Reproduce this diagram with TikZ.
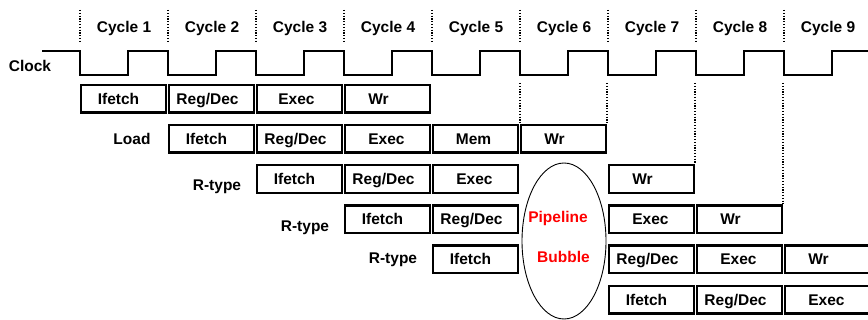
\documentclass[tikz,border=0pt]{standalone}
\usepackage{fontspec}
\setmainfont{Liberation Sans}
\usetikzlibrary{shapes.geometric}
\begin{document}
\begin{tikzpicture}[x=1pt,y=-1pt,
  font=\bfseries\fontsize{15.5}{18}\selectfont,
  stagebox/.style={draw, line width=2.4pt, minimum width=84.6pt, minimum height=27.6pt,
    inner sep=0pt, text height=11pt, text depth=0pt},
  dotline/.style={line width=2pt, dash pattern=on 1.3pt off 1.5pt},
  clk/.style={line width=2.2pt},
  lbl/.style={anchor=base, inner sep=0pt},
  redlbl/.style={lbl, text=red}]
\useasboundingbox (0,0) rectangle (868,320);
% cycle labels and top dotted lines
\foreach \k in {0,...,8}{
  \draw[dotline] ({80+88*\k},10) -- ({80+88*\k},43);
  \pgfmathtruncatemacro{\c}{\k+1}
  \node[lbl] (cyc\c) at ({124+88*\k},32.3) {Cycle \c};
}
% clock
\node[lbl] (clock) at (30,71.7) {Clock};
\draw[clk] (42,51) \foreach \k in {0,...,8}{ -- ({80+88*\k},51) -- ({80+88*\k},75) -- ({128+88*\k},75) -- ({128+88*\k},51)} -- (870,51);
% stage boxes: row/col/text/shift
\foreach \r/\c/\t/\s in {
  1/1/Ifetch/10, 1/2/Reg\slash Dec/8, 1/3/Exec/6, 1/4/Wr/18,
  2/2/Ifetch/10, 2/3/Reg\slash Dec/8, 2/4/Exec/2, 2/5/Mem/4, 2/6/Wr/18,
  3/3/Ifetch/10, 3/4/Reg\slash Dec/8, 3/5/Exec/2, 3/7/Wr/18,
  4/4/Ifetch/10, 4/5/Reg\slash Dec/8, 4/7/Exec/2, 4/8/Wr/18,
  5/5/Ifetch/10, 5/7/Reg\slash Dec/8, 5/8/Exec/2, 5/9/Wr/18,
  6/7/Ifetch/10, 6/8/Reg\slash Dec/8, 6/9/Exec/2}{
  \node[stagebox] (b\r-\c) at ({80+88*(\c-1)+43.5},{84+40.2*(\r-1)+14.7}) {\t\hspace*{\s pt}};
}
% instruction labels
\node[lbl] (load) at (132,144.5) {Load};
\node[lbl] (rt1) at (217,191) {R-type};
\node[lbl] (rt2) at (305,231.7) {R-type};
\node[lbl] (rt3) at (393,264) {R-type};
% lower dotted lines
\draw[dotline] (b2-6.north west |- 0,83) -- (b2-6.north west);
\draw[dotline] (b2-6.north east |- 0,83) -- (b2-6.north east);
\draw[dotline] (b3-7.north east |- 0,83) -- (b3-7.north east);
\draw[dotline] (b4-8.north east |- 0,83) -- (b4-8.north east);
% bubble
\node[draw, ellipse, line width=0.9pt, minimum width=84pt, minimum height=156pt, inner sep=0pt] (bubble) at (564,241) {};
\node[redlbl] (pipe) at (558,223) {Pipeline};
\node[redlbl] (bub) at (563.5,263) {Bubble};
\end{tikzpicture}
\end{document}
